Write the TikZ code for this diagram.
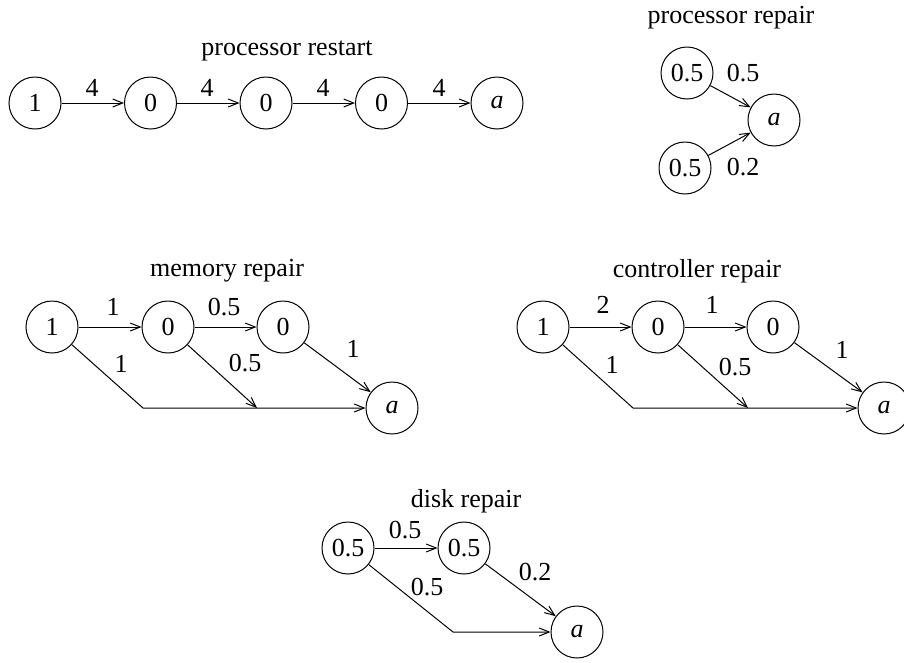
\documentclass[tikz,border=0pt]{standalone}
\usepackage{fontspec}
\setmainfont{Liberation Serif}
\usetikzlibrary{arrows.meta}

\tikzset{
  state/.style={circle, draw, line width=1pt, minimum size=52pt, inner sep=0pt},
  lbl/.style={inner sep=0pt},
  title/.style={inner sep=0pt},
  edge/.style={line width=1pt, -{Straight Barb[length=10pt,width=8pt,line width=1pt]}},
}

\begin{document}
\begin{tikzpicture}[x=1pt, y=-1pt, font=\fontsize{26}{31}\selectfont]
\path[use as bounding box] (0,0) rectangle (904,662);

% processor restart: a chain of five states
\node[title] (t1) at (287,51) {processor restart};
\node[state] (r1) at (35,103) {1};
\node[state] (r2) at (150.5,103) {0};
\node[state] (r3) at (266,103) {0};
\node[state] (r4) at (381.5,103) {0};
\node[state] (ra) at (497,103) {\itshape a};
\draw[edge] (r1) -- (r2);
\draw[edge] (r2) -- (r3);
\draw[edge] (r3) -- (r4);
\draw[edge] (r4) -- (ra);
\node[lbl] at (92,88) {4};
\node[lbl] at (207,88) {4};
\node[lbl] at (323,88) {4};
\node[lbl] at (439,88) {4};

% processor repair: two states merging
\node[title] (t2) at (731,18) {processor repair};
\node[state] (p1) at (687,73) {0.5};
\node[state] (p2) at (685,168) {0.5};
\node[state] (pa) at (774,120) {\itshape a};
\draw[edge] (p1) -- (pa);
\draw[edge] (p2) -- (pa);
\node[lbl] at (743,73) {0.5};
\node[lbl] at (743,167) {0.2};

% memory repair
\node[title] (t3) at (227,271) {memory repair};
\node[state] (m1) at (52,327) {1};
\node[state] (m2) at (168,327) {0};
\node[state] (m3) at (283,327) {0};
\node[state] (ma) at (392,408) {\itshape a};
\coordinate (mk) at (143,408);
\coordinate (mt) at (257,408);
\draw[edge] (m1) -- (m2);
\draw[edge] (m2) -- (m3);
\draw[edge] (m1) -- (mk) -- (ma);
\draw[edge] (m2) -- (mt);
\draw[edge] (m3) -- (ma);
\node[lbl] at (113,307) {1};
\node[lbl] at (224,307) {0.5};
\node[lbl] at (121,364) {1};
\node[lbl] at (245,363) {0.5};
\node[lbl] at (353,349) {1};

% controller repair
\node[title] (t4) at (697,271) {controller repair};
\node[state] (c1) at (543,327) {1};
\node[state] (c2) at (658,327) {0};
\node[state] (c3) at (773,327) {0};
\node[state] (ca) at (884,408) {\itshape a};
\coordinate (ck) at (633,408);
\coordinate (ct) at (748,408);
\draw[edge] (c1) -- (c2);
\draw[edge] (c2) -- (c3);
\draw[edge] (c1) -- (ck) -- (ca);
\draw[edge] (c2) -- (ct);
\draw[edge] (c3) -- (ca);
\node[lbl] at (603,305) {2};
\node[lbl] at (712,305) {1};
\node[lbl] at (612,365) {1};
\node[lbl] at (735,367) {0.5};
\node[lbl] at (842,350) {1};

% disk repair
\node[title] (t5) at (466,501) {disk repair};
\node[state] (d1) at (348,548) {0.5};
\node[state] (d2) at (464,548) {0.5};
\node[state] (da) at (577,632) {\itshape a};
\coordinate (dk) at (453,632);
\draw[edge] (d1) -- (d2);
\draw[edge] (d1) -- (dk) -- (da);
\draw[edge] (d2) -- (da);
\node[lbl] at (405,530) {0.5};
\node[lbl] at (427,587) {0.5};
\node[lbl] at (535,572) {0.2};
\end{tikzpicture}
\end{document}
